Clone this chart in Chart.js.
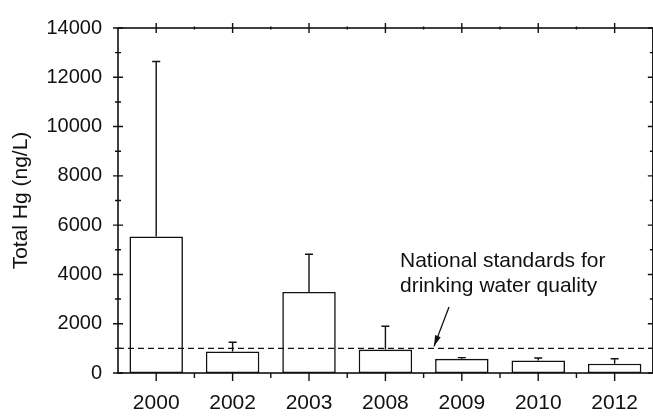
<!DOCTYPE html>
<html>
<head>
<meta charset="utf-8">
<script src="https://cdn.jsdelivr.net/npm/chart.js@4.4.1/dist/chart.umd.min.js"></script>
<style>
  html, body { margin: 0; padding: 0; background: #fff; overflow: hidden; }
  #wrap { width: 656px; height: 417px; }
</style>
</head>
<body>
<div id="wrap"><canvas id="myChart" width="656" height="417"></canvas></div>
<script>
// Sampling years and total Hg (mean and mean + SD, ng/L)
const years = ['2000', '2002', '2003', '2008', '2009', '2010', '2012'];
const meanHg = [5540, 875, 3290, 950, 575, 510, 380];
const upperHg = [12640, 1250, 4820, 1900, 625, 610, 580];

// y axis range and the drinking water standard
const yTicks = [0, 2000, 4000, 6000, 8000, 10000, 12000, 14000];
const stdHg = 1000;
const noteLines = ['National standards for', 'drinking water quality'];

const FONT = '"Liberation Sans", Arial, Helvetica, sans-serif';
const INK = '#111';

// Draws the box, tick marks, error bars, the standard line and the note
const frameAndMarks = {
    id: 'frameAndMarks',
    afterDatasetsDraw(chart) {
        const ctx = chart.ctx;
        const a = chart.chartArea;
        const x = chart.scales.x;
        const y = chart.scales.y;

        ctx.save();
        ctx.strokeStyle = INK;
        ctx.fillStyle = INK;

        // error bars (upper only)
        ctx.lineWidth = 1.4;
        meanHg.forEach((m, i) => {
            const px = x.getPixelForValue(i);
            const yTop = y.getPixelForValue(m);
            const yErr = y.getPixelForValue(upperHg[i]);
            ctx.beginPath();
            ctx.moveTo(px, yTop);
            ctx.lineTo(px, yErr);
            ctx.moveTo(px - 4, yErr);
            ctx.lineTo(px + 4, yErr);
            ctx.stroke();
        });

        // dashed standard line
        const yStd = y.getPixelForValue(stdHg);
        ctx.lineWidth = 1.4;
        ctx.setLineDash([6, 4]);
        ctx.beginPath();
        ctx.moveTo(a.left, yStd);
        ctx.lineTo(a.right, yStd);
        ctx.stroke();
        ctx.setLineDash([]);

        // frame
        ctx.lineWidth = 1.6;
        ctx.strokeRect(a.left, a.top, a.right - a.left, a.bottom - a.top);

        // y ticks, left and right, crossing the axis
        ctx.lineWidth = 1.4;
        for (let v = y.min; v <= y.max; v += 1000) {
            const py = y.getPixelForValue(v);
            const len = v % 2000 === 0 ? 5 : 3;
            ctx.beginPath();
            ctx.moveTo(a.left - len, py);
            ctx.lineTo(a.left + len, py);
            ctx.moveTo(a.right - len, py);
            ctx.lineTo(a.right + len, py);
            ctx.stroke();
        }

        // x ticks: centres are major, category edges are minor
        years.forEach((yr, i) => {
            const px = x.getPixelForValue(i);
            ctx.beginPath();
            ctx.moveTo(px, a.bottom);
            ctx.lineTo(px, a.bottom + 8);
            ctx.moveTo(px, a.top - 5);
            ctx.lineTo(px, a.top + 5);
            ctx.stroke();
            if (i > 0) {
                const edge = (px + x.getPixelForValue(i - 1)) / 2;
                ctx.beginPath();
                ctx.moveTo(edge, a.bottom);
                ctx.lineTo(edge, a.bottom + 5);
                ctx.moveTo(edge, a.top - 1.5);
                ctx.lineTo(edge, a.top + 1.5);
                ctx.stroke();
            }
        });

        // note and arrow
        ctx.font = '21px ' + FONT;
        ctx.textAlign = 'left';
        ctx.textBaseline = 'alphabetic';
        ctx.fillText(noteLines[0], a.left + 282, 267);
        ctx.fillText(noteLines[1], a.left + 282, 292);

        const tipX = a.left + 316;
        const tipY = yStd - 2;
        const fromX = a.left + 331;
        const fromY = 307;
        ctx.lineWidth = 1.3;
        ctx.beginPath();
        ctx.moveTo(fromX, fromY);
        ctx.lineTo(tipX, tipY);
        ctx.stroke();
        const ang = Math.atan2(tipY - fromY, tipX - fromX);
        ctx.beginPath();
        ctx.moveTo(tipX, tipY);
        ctx.lineTo(tipX - 11 * Math.cos(ang) + 3 * Math.sin(ang), tipY - 11 * Math.sin(ang) - 3 * Math.cos(ang));
        ctx.lineTo(tipX - 11 * Math.cos(ang) - 3 * Math.sin(ang), tipY - 11 * Math.sin(ang) + 3 * Math.cos(ang));
        ctx.closePath();
        ctx.fill();

        ctx.restore();
    }
};

const ctx = document.getElementById('myChart').getContext('2d');
const chart = new Chart(ctx, {
    type: 'bar',
    data: {
        labels: years,
        datasets: [{
            label: 'Total Hg',
            data: meanHg,
            backgroundColor: '#fff',
            borderColor: INK,
            borderWidth: 1.6,
            borderSkipped: false,
            categoryPercentage: 1,
            barPercentage: 0.7
        }]
    },
    options: {
        responsive: false,
        animation: false,
        layout: { padding: { top: 16, right: 0, left: 0, bottom: 0 } },
        plugins: {
            legend: { display: false },
            tooltip: { enabled: false }
        },
        scales: {
            x: {
                grid: { display: false, drawTicks: false },
                border: { display: false },
                ticks: { color: INK, font: { family: FONT, size: 21 }, padding: 18, maxRotation: 0 },
                afterFit: (scale) => { scale.height = 44; }
            },
            y: {
                min: 0,
                max: 14000,
                grid: { display: false, drawTicks: false },
                border: { display: false },
                afterBuildTicks: (scale) => { scale.ticks = yTicks.map(v => ({ value: v })); },
                ticks: {
                    color: INK,
                    font: { family: FONT, size: 20 },
                    padding: 16,
                    callback: (v) => String(v)
                },
                title: {
                    display: true,
                    text: 'Total Hg (ng/L)',
                    color: INK,
                    font: { family: FONT, size: 21 },
                    padding: { top: 9, bottom: 0 }
                },
                afterFit: (scale) => { scale.width = 118; }
            }
        }
    },
    plugins: [frameAndMarks]
});
</script>
</body>
</html>
